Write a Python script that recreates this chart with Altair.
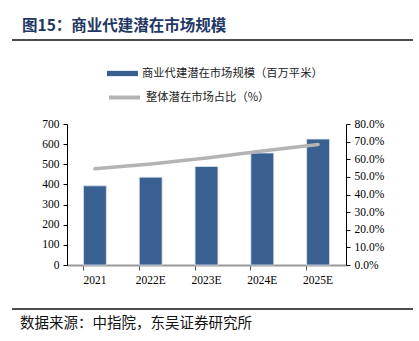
import altair as alt
import pandas as pd

years = ["2021", "2022E", "2023E", "2024E", "2025E"]
market_scale = [393, 436, 489, 556, 625]          # 百万平米
market_share = [54.6, 57.3, 60.7, 64.7, 68.4]     # %
left_ticks = [0, 100, 200, 300, 400, 500, 600, 700]
right_ticks = [0, 10, 20, 30, 40, 50, 60, 70, 80]

bar_label = "商业代建潜在市场规模（百万平米）"
line_label = "整体潜在市场占比（%）"
title_text = "图15：商业代建潜在市场规模"
source_text = "数据来源：中指院，东吴证券研究所"

df = pd.DataFrame({"year": years, "scale": market_scale, "share": market_share,
                   "bar_s": bar_label, "line_s": line_label})

SERIF = "Liberation Serif"
CJK = "Noto Sans CJK SC"
BLUE = "#3A5F91"
GRAY = "#B4B4B4"

W, H = 279, 141

xenc = alt.X("year:N", sort=years, title=None,
             scale=alt.Scale(paddingInner=0.59, paddingOuter=0.295),
             axis=alt.Axis(labelAngle=0, labelFont=SERIF, labelFontSize=11.5, labelColor="#000",
                           domainColor="#999999", domainWidth=2, tickColor="#555", tickSize=5,
                           bandPosition=0, labelPadding=4, ticks=True))

bars = alt.Chart(df).mark_bar(color=BLUE, stroke="#DCE3EE", strokeWidth=0.8).encode(
    x=xenc,
    y=alt.Y("scale:Q", title=None,
            scale=alt.Scale(domain=[0, 700], nice=False),
            axis=alt.Axis(values=left_ticks, labelFont=SERIF, labelFontSize=11.5, labelColor="#000",
                          domainColor="#000", domainWidth=1, tickColor="#000", tickSize=4,
                          labelPadding=4, grid=False, orient="left")),
    fill=alt.Fill("bar_s:N", scale=alt.Scale(range=[BLUE]), title=None,
                  legend=alt.Legend(orient="none", legendX=40, legendY=-66, padding=0,
                                    symbolType="M-1,-0.17H1V0.17H-1Z", symbolSize=961,
                                    symbolStrokeWidth=0, labelFont=CJK, labelFontSize=11.3,
                                    labelColor="#222", labelOffset=4, labelLimit=400)),
)

line = alt.Chart(df).mark_line(strokeWidth=3.5, strokeCap="round").encode(
    x=alt.X("year:N", sort=years),
    y=alt.Y("share:Q", title=None,
            scale=alt.Scale(domain=[0, 80], nice=False),
            axis=alt.Axis(values=right_ticks, orient="right",
                          labelExpr="format(datum.value, '.1f') + '%'",
                          labelFont=SERIF, labelFontSize=11.5, labelColor="#000",
                          domainColor="#000", domainWidth=1, tickColor="#000", tickSize=4,
                          labelPadding=4, grid=False)),
    stroke=alt.Stroke("line_s:N", scale=alt.Scale(range=[GRAY]), title=None,
                      legend=alt.Legend(orient="none", legendX=40, legendY=-44, padding=0,
                                        symbolType="stroke", symbolSize=961, symbolStrokeWidth=4,
                                        labelFont=CJK, labelFontSize=11.3,
                                        labelColor="#222", labelOffset=4, labelLimit=400)),
)

title = alt.Chart(alt.InlineData(values=[{"t": title_text}])).mark_text(
    align="left", baseline="middle", font=CJK, fontSize=15.5, fontWeight="bold", color="#1F3864"
).encode(x=alt.value(-45), y=alt.value(-98), text="t:N")

source = alt.Chart(alt.InlineData(values=[{"t": source_text}])).mark_text(
    align="left", baseline="middle", font=CJK, fontSize=14.5, color="#111"
).encode(x=alt.value(-47), y=alt.value(200), text="t:N")

top_rule = alt.Chart(alt.InlineData(values=[{"a": 1}])).mark_rule(color="#111", strokeWidth=1.5).encode(
    x=alt.value(-55), x2=alt.value(346), y=alt.value(-84))
bottom_rule = alt.Chart(alt.InlineData(values=[{"a": 1}])).mark_rule(color="#111", strokeWidth=1.5).encode(
    x=alt.value(-55), x2=alt.value(346), y=alt.value(185))

main = alt.layer(bars, line).resolve_scale(y="independent", fill="independent", stroke="independent")

chart = alt.layer(main, title, source, top_rule, bottom_rule).properties(
    width=W, height=H,
    autosize=alt.AutoSizeParams(type="none"),
    padding={"left": 67, "top": 124, "right": 73, "bottom": 76},
    background="white",
).configure_view(stroke=None)

chart.save("out.html", embed_options={"renderer": "svg", "actions": False})
